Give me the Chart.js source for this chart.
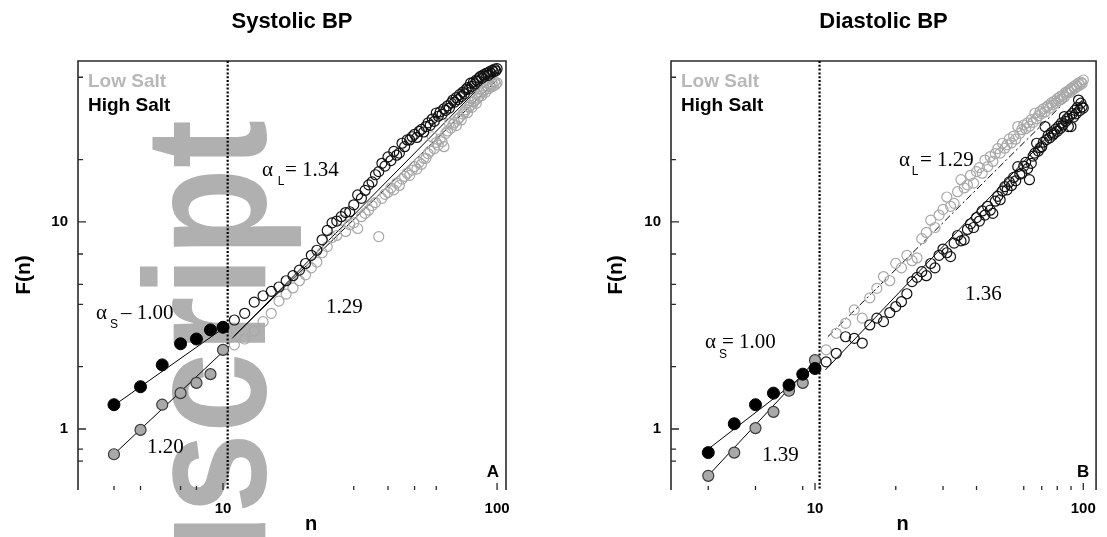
<!DOCTYPE html>
<html>
<head>
<meta charset="utf-8">
<script src="https://cdn.jsdelivr.net/npm/chart.js@4.4.1/dist/chart.umd.min.js"></script>
<style>
  html, body { margin: 0; padding: 0; background: #fff; }
  #wrap { position: relative; width: 1107px; height: 537px; overflow: hidden; }
  canvas { position: absolute; top: 0; }
  #sys { left: 0; }
  #dia { left: 553px; }
</style>
</head>
<body>
<div id="wrap">
  <canvas id="sys" width="553" height="537"></canvas>
  <canvas id="dia" width="554" height="537"></canvas>
</div>
<script>
// ---- DATA ---------------------------------------------------------
// box size n (short range, filled markers)
const nShort = [4, 5, 6, 7, 8, 9, 10];
// box size n (long range, open markers)
const nLong = [
  11, 12, 13, 14, 15, 16, 17, 18, 19, 20,
  21, 22, 23, 24, 25, 26, 27, 28, 29, 30,
  31, 32, 33, 34, 35, 36, 37, 38, 39, 40,
  41, 42, 43, 44, 45, 46, 47, 48, 49, 50,
  51, 52, 53, 54, 55, 56, 57, 58, 59, 60,
  61, 62, 63, 64, 65, 66, 67, 68, 69, 70,
  71, 72, 73, 74, 75, 76, 77, 78, 79, 80,
  81, 82, 83, 84, 85, 86, 87, 88, 89, 90,
  91, 92, 93, 94, 95, 96, 97, 98, 99, 100
];

// Systolic BP, F(n)
const sysHighShort = [1.31, 1.60, 2.04, 2.58, 2.72, 3.01, 3.10];
const sysLowShort  = [0.755, 0.99, 1.31, 1.49, 1.67, 1.84, 2.41];
const sysHighLong = [
  3.36, 3.62, 4.10, 4.40, 4.62, 4.85, 5.20, 5.50, 5.85, 6.30,
  6.90, 7.30, 8.20, 9.10, 9.90, 10.1, 10.6, 11.1, 11.2, 12.1,
  13.5, 13.0, 14.2, 15.1, 15.6, 16.9, 17.5, 19.2, 18.6, 20.6,
  19.8, 21.9, 21.0, 21.5, 24.0, 23.1, 24.9, 24.9, 25.8, 26.5,
  25.6, 27.4, 28.0, 27.2, 28.9, 30.1, 29.3, 31.4, 30.6, 33.6,
  32.4, 34.0, 33.1, 35.2, 34.6, 36.4, 35.5, 37.6, 38.8, 37.9,
  39.9, 39.0, 41.2, 40.3, 42.4, 41.6, 43.6, 44.5, 43.8, 46.8,
  45.2, 47.3, 46.4, 48.5, 47.9, 49.6, 50.5, 49.4, 51.3, 50.6,
  52.0, 52.4, 51.1, 53.2, 52.3, 54.0, 53.1, 54.8, 53.7, 55.0
];
const sysLowLong = [
  2.55, 2.72, 2.98, 3.30, 3.62, 4.15, 4.48, 4.80, 5.20, 5.55,
  6.00, 6.40, 7.10, 7.60, 8.40, 8.60, 10.2, 9.00, 9.70, 9.90,
  9.30, 10.6, 11.0, 11.4, 12.0, 12.4, 8.50, 13.0, 13.6, 13.9,
  14.6, 14.3, 15.4, 15.0, 16.1, 16.6, 17.2, 16.8, 17.8, 18.5,
  18.0, 19.4, 19.0, 20.3, 20.3, 21.4, 22.0, 25.8, 22.6, 24.2,
  23.5, 25.1, 24.4, 23.1, 26.8, 27.5, 30.0, 28.4, 29.6, 30.3,
  29.2, 31.4, 32.0, 31.1, 33.2, 33.9, 34.8, 33.7, 35.9, 36.6,
  35.8, 37.9, 38.5, 37.4, 39.6, 40.5, 42.0, 40.8, 42.7, 43.5,
  42.4, 45.2, 44.0, 45.8, 44.9, 46.6, 45.3, 47.5, 46.2, 47.0
];
// fitted lines [n, F]
const sysFitHighShort = [[3.87, 1.26], [10.43, 3.18]];
const sysFitLowShort  = [[3.87, 0.724], [10.43, 2.49]];
const sysFitHighLong  = [[10.8, 2.74], [100, 54.5]];
const sysFitLowLong   = [[11, 2.82], [100, 48.5]];

// Diastolic BP, F(n)
const diaHighShort = [0.769, 1.06, 1.31, 1.49, 1.63, 1.84, 1.96];
const diaLowShort  = [0.594, 0.769, 1.01, 1.21, 1.53, 1.67, 2.15];
const diaHighLong = [
  2.11, 2.32, 2.79, 2.74, 2.60, 3.18, 3.43, 3.30, 3.65, 3.90,
  4.12, 4.50, 5.15, 5.40, 5.75, 5.50, 6.30, 6.00, 6.90, 7.40,
  7.10, 6.80, 7.90, 8.60, 8.10, 8.20, 9.20, 9.80, 9.40, 10.5,
  10.1, 11.3, 10.8, 11.9, 11.4, 11.0, 12.6, 13.3, 12.8, 14.1,
  14.8, 14.3, 15.6, 15.0, 16.4, 15.8, 18.5, 17.0, 17.2, 18.6,
  19.4, 18.1, 16.0, 19.2, 20.8, 21.5, 24.0, 22.0, 22.8, 23.1,
  24.3, 28.9, 25.0, 26.2, 25.5, 27.0, 26.3, 26.8, 28.1, 27.4,
  29.0, 28.3, 30.1, 29.4, 32.3, 30.6, 31.5, 28.9, 32.5, 28.9,
  33.4, 32.1, 34.6, 33.3, 35.7, 38.8, 34.5, 37.5, 36.0, 35.5
];
const diaLowLong = [
  2.41, 2.90, 3.24, 3.76, 3.43, 4.30, 4.78, 5.45, 5.20, 6.31,
  6.00, 6.90, 6.50, 6.70, 8.30, 8.90, 10.2, 9.40, 10.8, 11.5,
  13.2, 11.9, 12.3, 14.0, 16.0, 14.6, 15.1, 16.8, 15.4, 17.5,
  18.3, 17.2, 19.9, 18.5, 20.7, 19.6, 21.4, 22.6, 21.5, 24.0,
  22.7, 23.6, 25.2, 24.1, 26.0, 25.1, 28.9, 26.8, 27.9, 29.4,
  28.2, 30.1, 29.0, 31.2, 30.3, 33.5, 31.5, 32.6, 34.1, 33.4,
  35.2, 34.0, 35.8, 36.5, 35.5, 37.6, 36.8, 38.3, 37.5, 39.4,
  38.6, 40.3, 39.2, 41.0, 40.1, 42.3, 41.9, 43.0, 42.2, 44.1,
  43.4, 45.0, 44.2, 45.9, 45.1, 46.8, 45.9, 47.4, 46.6, 48.5
];
const diaFitHighShort = [[3.9, 0.78], [10.4, 2.08]];
const diaFitLowShort  = [[3.9, 0.575], [10.4, 2.25]];
const diaFitHighLong  = [[10.94, 1.93], [100, 39.2]];
const diaFitLowLong   = [[11.16, 2.79], [100, 46.5]];

// axes
const xLabelTicks = [10, 100];
const yLabelTicks = [1, 10];
const yMinorTicks = [0.7, 0.8, 2, 4, 5, 7, 20, 50];
const sysXMinor = [4, 5, 7, 8, 30, 40, 50, 60];
const diaXMinor = [4, 6, 9, 20, 30, 40, 60, 70, 80, 90];
const crossover = 10.4;  // dotted line, short/long boundary

// ---- HELPERS ------------------------------------------------------
const SANS = '"Liberation Sans", Arial, sans-serif';
const SERIF = '"Liberation Serif", "Times New Roman", serif';
Chart.defaults.font.family = SANS;

const pts = (xs, ys) => xs.map((x, i) => ({ x: x, y: ys[i] }));
const seg = pairs => pairs.map(p => ({ x: p[0], y: p[1] }));

function drawWatermark(ctx) {
  ctx.save();
  ctx.translate(265, 120);
  ctx.rotate(-Math.PI / 2);
  ctx.scale(0.84, 1);
  ctx.font = 'bold 172px ' + SANS;
  ctx.fillStyle = '#b0b0b0';
  ctx.textAlign = 'right';
  ctx.textBaseline = 'alphabetic';
  ctx.fillText('Manuscript', 0, 0);
  ctx.restore();
}

const panelPlugin = {
  id: 'panel',
  beforeDraw(chart, args, opts) {
    if (opts.watermark) drawWatermark(chart.ctx);
  },
  beforeDatasetsDraw(chart, args, opts) {
    const ctx = chart.ctx, a = chart.chartArea;
    const xs = chart.scales.x, ys = chart.scales.y;
    ctx.save();
    // box: left, top, right (no bottom line in the original)
    ctx.strokeStyle = '#2a2a2a';
    ctx.lineWidth = 1.6;
    ctx.beginPath();
    ctx.moveTo(a.left, a.bottom + 1);
    ctx.lineTo(a.left, a.top);
    ctx.lineTo(a.right, a.top);
    ctx.lineTo(a.right, a.bottom + 1);
    ctx.stroke();
    // inward tick marks
    ctx.lineWidth = 1.3;
    ctx.beginPath();
    yMinorTicks.forEach(v => { const y = ys.getPixelForValue(v); ctx.moveTo(a.left, y); ctx.lineTo(a.left + 5, y); });
    yLabelTicks.forEach(v => { const y = ys.getPixelForValue(v); ctx.moveTo(a.left, y); ctx.lineTo(a.left + 8, y); });
    opts.xMinor.forEach(v => { const x = xs.getPixelForValue(v); ctx.moveTo(x, a.bottom + 1); ctx.lineTo(x, a.bottom - 3); });
    xLabelTicks.forEach(v => { const x = xs.getPixelForValue(v); ctx.moveTo(x, a.bottom + 1); ctx.lineTo(x, a.bottom - 6); });
    ctx.stroke();
    // dotted crossover line
    const xc = xs.getPixelForValue(crossover);
    ctx.setLineDash([2, 1.8]);
    ctx.lineWidth = 2.2;
    ctx.strokeStyle = '#000';
    ctx.beginPath();
    ctx.moveTo(xc, a.top);
    ctx.lineTo(xc, a.bottom);
    ctx.stroke();
    ctx.restore();
  },
  afterDraw(chart, args, opts) {
    const ctx = chart.ctx, a = chart.chartArea;
    ctx.save();
    ctx.fillStyle = '#000';
    ctx.textBaseline = 'middle';
    // panel title and axis titles
    ctx.textAlign = 'center';
    ctx.font = 'bold 22px ' + SANS;
    ctx.fillText(opts.title, (a.left + a.right) / 2, 22);
    ctx.font = 'bold 20px ' + SANS;
    ctx.fillText('n', (a.left + a.right) / 2 + 19, 524);
    ctx.save();
    ctx.translate(opts.yTitleX, (a.top + a.bottom) / 2);
    ctx.rotate(-Math.PI / 2);
    ctx.font = 'bold 21px ' + SANS;
    ctx.fillText('F(n)', 0, 0);
    ctx.restore();
    // legend text
    ctx.textAlign = 'left';
    ctx.font = 'bold 19px ' + SANS;
    ctx.fillStyle = '#b8b8b8';
    ctx.fillText('Low Salt', a.left + 10, 82);
    ctx.fillStyle = '#000';
    ctx.fillText('High Salt', a.left + 10, 106);
    // panel letter
    ctx.textAlign = 'center';
    ctx.font = 'bold 17px ' + SANS;
    ctx.fillText(opts.letter, a.right - 13, 472);
    // exponent labels
    opts.notes.forEach(t => {
      ctx.textAlign = t.sub ? 'center' : 'left';
      ctx.font = t.sub ? '12px ' + SANS : '21px ' + SERIF;
      ctx.fillText(t.text, t.x, t.y);
    });
    ctx.restore();
  }
};

function makePanel(id, cfg) {
  const canvas = document.getElementById(id);
  const W = canvas.width;
  return new Chart(canvas, {
    type: 'scatter',
    data: {
      datasets: [
        { data: pts(nShort, cfg.highShort), pointRadius: 6, pointBackgroundColor: '#000', pointBorderColor: '#000', pointBorderWidth: 1 },
        { data: pts(nShort, cfg.lowShort), pointRadius: 5.5, pointBackgroundColor: '#a9a9a9', pointBorderColor: '#3a3a3a', pointBorderWidth: 1.2 },
        { data: pts(nLong, cfg.highLong), pointRadius: 5, pointBackgroundColor: 'rgba(0,0,0,0)', pointBorderColor: '#111', pointBorderWidth: 1.2 },
        { data: pts(nLong, cfg.lowLong), pointRadius: 5, pointBackgroundColor: 'rgba(0,0,0,0)', pointBorderColor: '#a8a8a8', pointBorderWidth: 1.2 },
        { data: seg(cfg.fitHighShort), showLine: true, borderColor: '#000', borderWidth: 1, pointRadius: 0 },
        { data: seg(cfg.fitLowShort), showLine: true, borderColor: '#000', borderWidth: 1, pointRadius: 0 },
        { data: seg(cfg.fitHighLong), showLine: true, borderColor: '#000', borderWidth: 1, pointRadius: 0 },
        { data: seg(cfg.fitLowLong), showLine: true, borderColor: '#000', borderWidth: 1, pointRadius: 0, borderDash: cfg.lowDash }
      ]
    },
    options: {
      responsive: false,
      animation: false,
      devicePixelRatio: 1,
      events: [],
      layout: { padding: { left: 0, top: 61, right: W - cfg.right, bottom: 0 } },
      plugins: {
        legend: { display: false },
        tooltip: { enabled: false },
        panel: cfg.panel
      },
      scales: {
        x: {
          type: 'logarithmic',
          min: cfg.xMin, max: cfg.xMax,
          grid: { display: false, drawTicks: false },
          border: { display: false },
          ticks: { color: '#000', font: { size: 15, weight: 'bold' }, padding: 11, maxRotation: 0, autoSkip: false, callback: v => String(v) },
          afterBuildTicks: s => { s.ticks = xLabelTicks.map(v => ({ value: v })); },
          afterFit: s => { s.height = 48; }
        },
        y: {
          type: 'logarithmic',
          min: 0.513, max: 59.9,
          grid: { display: false, drawTicks: false },
          border: { display: false },
          ticks: { color: '#000', font: { size: 15, weight: 'bold' }, padding: 10, autoSkip: false, callback: v => String(v) },
          afterBuildTicks: s => { s.ticks = yLabelTicks.map(v => ({ value: v })); },
          afterFit: s => { s.width = cfg.left; }
        }
      }
    },
    plugins: [panelPlugin]
  });
}

makePanel('sys', {
  left: 78, right: 506, xMin: 2.957, xMax: 107.8,
  highShort: sysHighShort, lowShort: sysLowShort, highLong: sysHighLong, lowLong: sysLowLong,
  fitHighShort: sysFitHighShort, fitLowShort: sysFitLowShort, fitHighLong: sysFitHighLong, fitLowLong: sysFitLowLong,
  lowDash: [],
  panel: {
    title: 'Systolic BP', letter: 'A', yTitleX: 24, watermark: true, xMinor: sysXMinor,
    notes: [
      { text: 'α', x: 262, y: 170 }, { text: 'L', x: 281, y: 182, sub: true }, { text: '= 1.34', x: 285, y: 170 },
      { text: 'α', x: 96, y: 313 }, { text: 'S', x: 114, y: 325, sub: true }, { text: '– 1.00', x: 121, y: 313 },
      { text: '1.29', x: 326, y: 307 },
      { text: '1.20', x: 147, y: 447 }
    ]
  }
});

makePanel('dia', {
  left: 118, right: 549, xMin: 2.905, xMax: 111.6,
  highShort: diaHighShort, lowShort: diaLowShort, highLong: diaHighLong, lowLong: diaLowLong,
  fitHighShort: diaFitHighShort, fitLowShort: diaFitLowShort, fitHighLong: diaFitHighLong, fitLowLong: diaFitLowLong,
  lowDash: [7, 3, 2, 3],
  panel: {
    title: 'Diastolic BP', letter: 'B', yTitleX: 63, watermark: false, xMinor: diaXMinor,
    notes: [
      { text: 'α', x: 346, y: 160 }, { text: 'L', x: 362, y: 172, sub: true }, { text: '= 1.29', x: 367, y: 160 },
      { text: 'α', x: 152, y: 342 }, { text: 'S', x: 170, y: 355, sub: true }, { text: '= 1.00', x: 169, y: 342 },
      { text: '1.36', x: 412, y: 294 },
      { text: '1.39', x: 209, y: 455 }
    ]
  }
});
</script>
</body>
</html>
